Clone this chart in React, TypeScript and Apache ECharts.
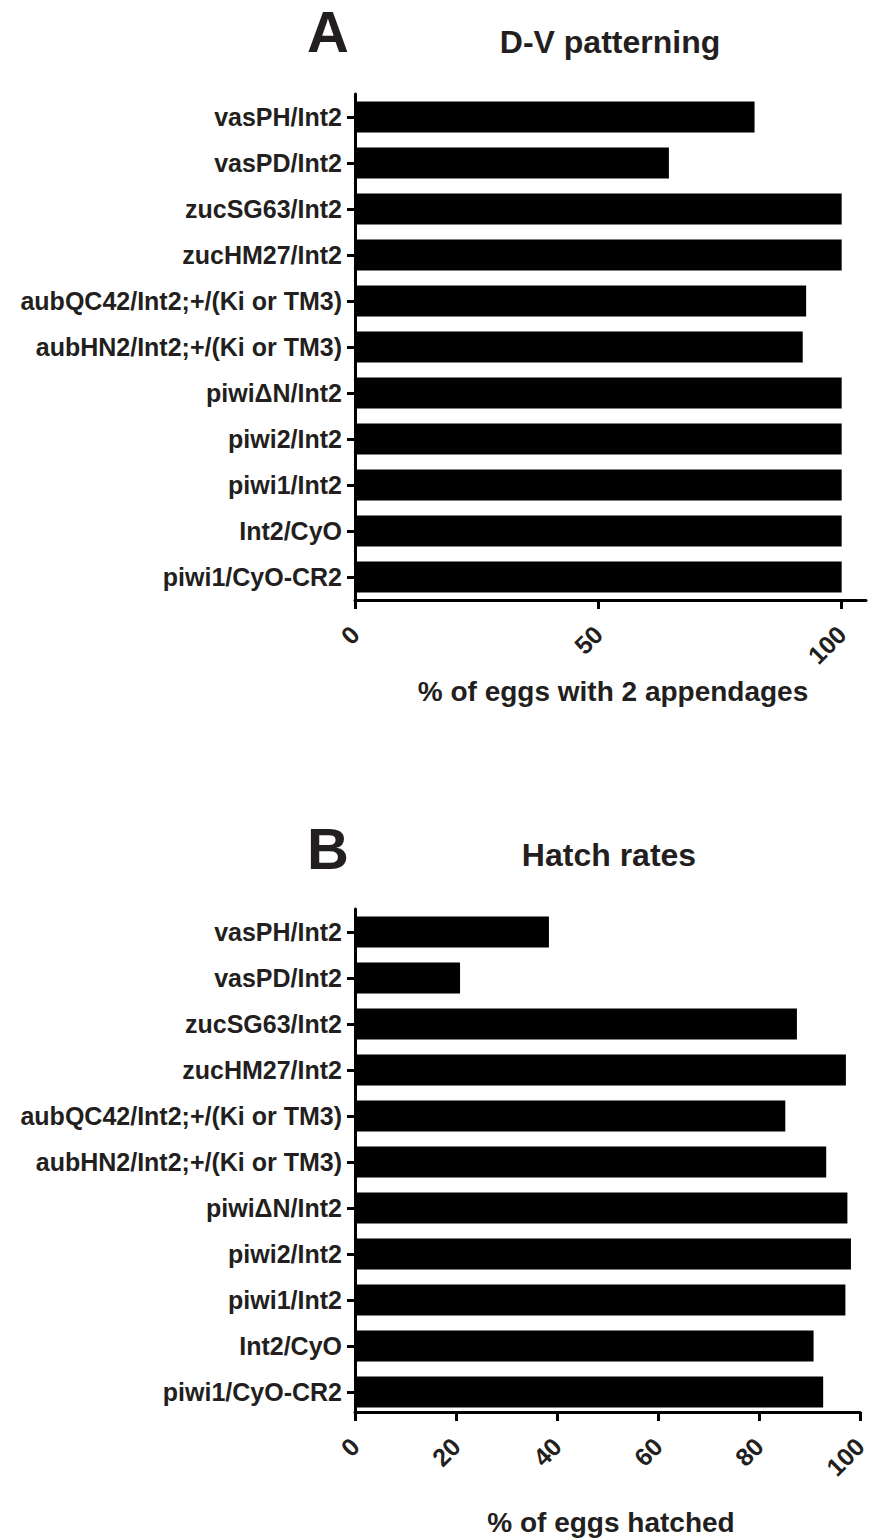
import React, { useEffect, useRef } from "react";
import * as echarts from "echarts";

const categories = [
  "vasPH/Int2",
  "vasPD/Int2",
  "zucSG63/Int2",
  "zucHM27/Int2",
  "aubQC42/Int2;+/(Ki or TM3)",
  "aubHN2/Int2;+/(Ki or TM3)",
  "piwiΔN/Int2",
  "piwi2/Int2",
  "piwi1/Int2",
  "Int2/CyO",
  "piwi1/CyO-CR2",
];

const dvValues = [82.1, 64.5, 100, 100, 92.7, 92.0, 100, 100, 100, 100, 100];
const hatchValues = [38.4, 20.8, 87.5, 97.2, 85.2, 93.3, 97.5, 98.2, 97.1, 90.8, 92.7];

const dvTicks = [0, 50, 100];
const hatchTicks = [0, 20, 40, 60, 80, 100];

const FONT = "'Liberation Sans', Arial, Helvetica, sans-serif";
const TXT = "#231f20";

export default function App() {
  const ref = useRef<HTMLDivElement>(null);

  useEffect(() => {
    document.body.style.margin = "0";
    if (!ref.current) return;
    const chart = echarts.init(ref.current, undefined, { renderer: "svg" });

    const yAxisCommon = (gridIndex: number) => ({
      type: "category" as const,
      gridIndex,
      data: categories,
      inverse: true,
      axisLine: { show: true, lineStyle: { color: "#000", width: 3 } },
      axisTick: { show: true, alignWithLabel: true, length: 8, lineStyle: { color: "#000", width: 3 } },
      axisLabel: {
        margin: 13,
        color: TXT,
        fontFamily: FONT,
        fontWeight: "bold",
        fontSize: 25,
      },
      splitLine: { show: false },
    });

    const xAxisCommon = (gridIndex: number, max: number, ticks: number[], offset: number) => ({
      type: "value" as const,
      gridIndex,
      min: 0,
      max,
      offset,
      axisLine: { show: true, lineStyle: { color: "#000", width: 3 } },
      axisTick: { show: true, length: 9, customValues: ticks, lineStyle: { color: "#000", width: 3 } },
      axisLabel: {
        customValues: ticks,
        rotate: 45,
        margin: 30,
        color: TXT,
        fontFamily: FONT,
        fontWeight: "bold",
        fontSize: 25,
      },
      splitLine: { show: false },
    });

    const titleText = (text: string, x: number, y: number, fontSize: number) => ({
      type: "text",
      x,
      y,
      style: {
        text,
        fill: TXT,
        fontFamily: FONT,
        fontWeight: "bold",
        fontSize,
        textAlign: "center",
        textVerticalAlign: "middle",
      },
    });

    chart.setOption({
      animation: false,
      backgroundColor: "#fff",
      grid: [
        { left: 355, top: 94, width: 511, height: 506, containLabel: false },
        { left: 355, top: 909, width: 507, height: 506, containLabel: false },
      ],
      xAxis: [xAxisCommon(0, 105, dvTicks, 0), xAxisCommon(1, 100, hatchTicks, -3)],
      yAxis: [yAxisCommon(0), yAxisCommon(1)],
      series: [
        {
          type: "bar",
          xAxisIndex: 0,
          yAxisIndex: 0,
          data: dvValues,
          barWidth: 31,
          itemStyle: { color: "#000" },
        },
        {
          type: "bar",
          xAxisIndex: 1,
          yAxisIndex: 1,
          data: hatchValues,
          barWidth: 31,
          itemStyle: { color: "#000" },
        },
      ],
      graphic: [
        titleText("A", 328, 31, 58),
        titleText("D-V patterning", 610, 42, 32),
        titleText("B", 328, 848, 58),
        titleText("Hatch rates", 609, 855, 32),
        titleText("% of eggs with 2 appendages", 613, 691, 28),
        titleText("% of eggs hatched", 611, 1522, 28),
      ],
    });

    return () => chart.dispose();
  }, []);

  return <div ref={ref} style={{ width: 871, height: 1539 }} />;
}
